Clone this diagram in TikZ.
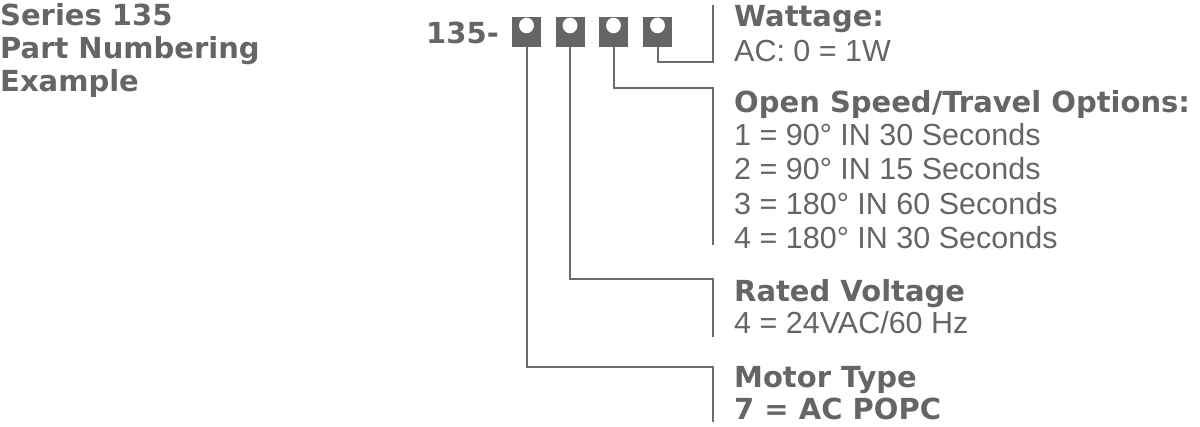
\documentclass[tikz,border=0pt]{standalone}
\usepackage{fontspec}
\setmainfont{Liberation Sans}
\newfontfamily\hdfont{DejaVu Sans}[BoldFont={DejaVu Sans Bold}]
\definecolor{txt}{HTML}{646567}
\definecolor{boxc}{HTML}{646567}
\definecolor{linec}{HTML}{6A6B6D}
\begin{document}
\begin{tikzpicture}[x=1pt,y=-1pt,
  hd/.style={anchor=base west,inner sep=0pt,text=txt,font=\hdfont\bfseries\fontsize{29}{30}\selectfont},
  bd/.style={anchor=base west,inner sep=0pt,text=txt,font=\fontsize{30.5}{32}\selectfont},
  digit/.style={fill=boxc,minimum width=29pt,minimum height=30pt,inner sep=0pt},
  conn/.style={draw=linec,line width=2pt}]
\useasboundingbox (0,0) rectangle (1200,427);
% title
\node[hd] (t1) at (0,25.5) {Series 135};
\node[hd] (t2) at (0,58.5) {Part Numbering};
\node[hd] (t3) at (0,92) {Example};
% part number
\node[hd] (pre) at (426,44) {135-};
\foreach \i/\x in {1/526.5,2/570,3/613.5,4/657.5}{
  \node[digit] (d\i) at (\x,32) {};
  \fill[white] (\x,25.5) ellipse (7.4pt and 7.8pt);
}
% labels
\node[hd] (wh) at (734,27) {Wattage:};
\node[bd] (w1) at (734,62) {AC: 0 = 1W};
\node[hd] (oh) at (734,113) {Open Speed/Travel Options:};
\node[bd] (o1) at (734,145.5) {1 = 90° IN 30 Seconds};
\node[bd] (o2) at (734,180) {2 = 90° IN 15 Seconds};
\node[bd] (o3) at (734,214.5) {3 = 180° IN 60 Seconds};
\node[bd] (o4) at (734,249) {4 = 180° IN 30 Seconds};
\node[hd] (rh) at (734,302) {Rated Voltage};
\node[bd] (r1) at (734,334) {4 = 24VAC/60 Hz};
\node[hd] (mh) at (734,388) {Motor Type};
\node[hd] (m1) at (734,420) {7 = AC POPC};
% bar coordinates
\coordinate (wt) at (713,5);
\coordinate (wb) at (713,62);
\coordinate (ot) at (713,88);
\coordinate (ob) at (713,245);
\coordinate (rt) at (713,279);
\coordinate (rb) at (713,337);
\coordinate (mt) at (713,367);
\coordinate (mb) at (713,422);
% connectors
\draw[conn] (d4.south) |- (wb) -- (wt);
\draw[conn] (d3.south) |- (ot) -- (ob);
\draw[conn] (d2.south) |- (rt) -- (rb);
\draw[conn] (d1.south) |- (mt) -- (mb);
\end{tikzpicture}
\end{document}
